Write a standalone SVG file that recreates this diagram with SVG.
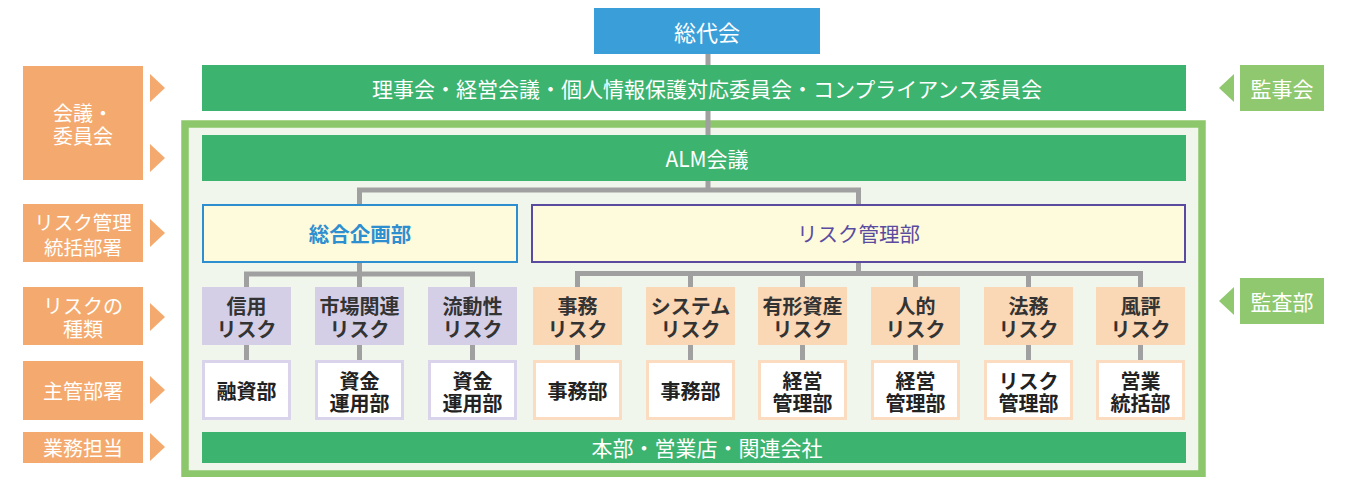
<svg xmlns="http://www.w3.org/2000/svg" width="1358" height="477" viewBox="0 0 1358 477">
<style>
text{font-family:"Noto Sans CJK JP","Noto Sans",sans-serif;text-anchor:middle;dominant-baseline:central}
.w{fill:#fff;font-size:21px}
.lbl{fill:#fff;font-size:20px}
.bar{fill:#3db370}
.or{fill:#f4aa6e}
.gr{fill:#8fc86e}
.rp{fill:#d4cfe7}
.ro{fill:#fad7b5}
.rt{fill:#333;font-size:20px;font-weight:700}
.dp{fill:#fff;stroke:#d9d4ec;stroke-width:3}
.do{fill:#fff;stroke:#fcdcc0;stroke-width:3}
.dt{fill:#222;font-size:20px;font-weight:700}
.con{fill:none;stroke:#a0a0a0;stroke-width:5}
</style>
<rect width="1358" height="477" fill="#fff"/>
<g id="frame"><rect x="185" y="124" width="1017" height="350" fill="#f1f6ec" stroke="#8dc76b" stroke-width="7.5"/></g>
<g id="connectors">
<path class="con" d="M708 54V135M708 181V190M359.5 204V190H858.5V204"/>
<path class="con" d="M246.5 287V274H472.5V287M359.5 263V287"/>
<path class="con" d="M577.5 287V273.5H1140.5V287M858.5 263V273.5M690.5 273.5V287M802.5 273.5V287M915.5 273.5V287M1028.5 273.5V287"/>
<path class="con" d="M246.5 345V361M359.5 345V361M472.5 345V361M577.5 345V361M690.5 345V361M802.5 345V361M915.5 345V361M1028.5 345V361M1140.5 345V361"/>
</g>
<g id="soudaikai"><rect x="594" y="8" width="226" height="46" fill="#3a9fd9"/><text class="w" x="707" y="31" style="font-size:22px">総代会</text></g>
<g id="rijikai"><rect class="bar" x="202" y="65" width="984" height="46"/><text class="w" x="707" y="88">理事会・経営会議・個人情報保護対応委員会・コンプライアンス委員会</text></g>
<g id="alm"><rect class="bar" x="202" y="135" width="984" height="46"/><text class="w" x="707" y="158">ALM会議</text></g>
<g id="sogo"><rect x="203" y="205" width="314" height="57" fill="#fefbdc" stroke="#2e8fd0" stroke-width="2"/><text x="360" y="233" style="fill:#2e8fd0;font-size:20.5px;font-weight:700">総合企画部</text></g>
<g id="riskmgmt"><rect x="532" y="205" width="653" height="57" fill="#fefbdc" stroke="#5b4ba0" stroke-width="2"/><text x="858.5" y="233" style="fill:#5b4ba0;font-size:20.5px">リスク管理部</text></g>
<g id="r1"><rect class="rp" x="202" y="287" width="89" height="58"/><text class="rt" x="246.5" y="305"><tspan x="246.5">信用</tspan><tspan x="246.5" dy="23">リスク</tspan></text></g>
<g id="r2"><rect class="rp" x="315" y="287" width="89" height="58"/><text class="rt" x="359.5" y="305"><tspan x="359.5">市場関連</tspan><tspan x="359.5" dy="23">リスク</tspan></text></g>
<g id="r3"><rect class="rp" x="428" y="287" width="89" height="58"/><text class="rt" x="472.5" y="305"><tspan x="472.5">流動性</tspan><tspan x="472.5" dy="23">リスク</tspan></text></g>
<g id="r4"><rect class="ro" x="533" y="287" width="89" height="58"/><text class="rt" x="577.5" y="305"><tspan x="577.5">事務</tspan><tspan x="577.5" dy="23">リスク</tspan></text></g>
<g id="r5"><rect class="ro" x="646" y="287" width="89" height="58"/><text class="rt" x="690.5" y="305"><tspan x="690.5">システム</tspan><tspan x="690.5" dy="23">リスク</tspan></text></g>
<g id="r6"><rect class="ro" x="758" y="287" width="89" height="58"/><text class="rt" x="802.5" y="305"><tspan x="802.5">有形資産</tspan><tspan x="802.5" dy="23">リスク</tspan></text></g>
<g id="r7"><rect class="ro" x="871" y="287" width="89" height="58"/><text class="rt" x="915.5" y="305"><tspan x="915.5">人的</tspan><tspan x="915.5" dy="23">リスク</tspan></text></g>
<g id="r8"><rect class="ro" x="984" y="287" width="89" height="58"/><text class="rt" x="1028.5" y="305"><tspan x="1028.5">法務</tspan><tspan x="1028.5" dy="23">リスク</tspan></text></g>
<g id="r9"><rect class="ro" x="1096" y="287" width="89" height="58"/><text class="rt" x="1140.5" y="305"><tspan x="1140.5">風評</tspan><tspan x="1140.5" dy="23">リスク</tspan></text></g>
<g id="d1"><rect class="dp" x="203.5" y="361.5" width="86" height="57"/><text class="dt" x="246.5" y="390">融資部</text></g>
<g id="d2"><rect class="dp" x="316.5" y="361.5" width="86" height="57"/><text class="dt" x="359.5" y="380"><tspan x="359.5">資金</tspan><tspan x="359.5" dy="22">運用部</tspan></text></g>
<g id="d3"><rect class="dp" x="429.5" y="361.5" width="86" height="57"/><text class="dt" x="472.5" y="380"><tspan x="472.5">資金</tspan><tspan x="472.5" dy="22">運用部</tspan></text></g>
<g id="d4"><rect class="do" x="534.5" y="361.5" width="86" height="57"/><text class="dt" x="577.5" y="390">事務部</text></g>
<g id="d5"><rect class="do" x="647.5" y="361.5" width="86" height="57"/><text class="dt" x="690.5" y="390">事務部</text></g>
<g id="d6"><rect class="do" x="759.5" y="361.5" width="86" height="57"/><text class="dt" x="802.5" y="380"><tspan x="802.5">経営</tspan><tspan x="802.5" dy="22">管理部</tspan></text></g>
<g id="d7"><rect class="do" x="872.5" y="361.5" width="86" height="57"/><text class="dt" x="915.5" y="380"><tspan x="915.5">経営</tspan><tspan x="915.5" dy="22">管理部</tspan></text></g>
<g id="d8"><rect class="do" x="985.5" y="361.5" width="86" height="57"/><text class="dt" x="1028.5" y="380"><tspan x="1028.5">リスク</tspan><tspan x="1028.5" dy="22">管理部</tspan></text></g>
<g id="d9"><rect class="do" x="1097.5" y="361.5" width="86" height="57"/><text class="dt" x="1140.5" y="380"><tspan x="1140.5">営業</tspan><tspan x="1140.5" dy="22">統括部</tspan></text></g>
<g id="gyomu"><rect class="bar" x="202" y="432" width="984" height="31"/><text class="w" x="707" y="447">本部・営業店・関連会社</text></g>
<g id="lab1"><rect class="or" x="23" y="66" width="120" height="114"/><text class="lbl" x="83" y="112"><tspan x="83">会議・</tspan><tspan x="83" dy="23">委員会</tspan></text><path class="or" d="M150 74L165 88L150 102ZM150 144L165 158L150 172Z"/></g>
<g id="lab2"><rect class="or" x="23" y="204" width="120" height="58"/><text class="lbl" x="83" y="221" style="font-size:19.5px"><tspan x="83">リスク管理</tspan><tspan x="83" dy="25">統括部署</tspan></text><path class="or" d="M150 219L165 233L150 247Z"/></g>
<g id="lab3"><rect class="or" x="23" y="287" width="120" height="58"/><text class="lbl" x="83" y="305"><tspan x="83">リスクの</tspan><tspan x="83" dy="23">種類</tspan></text><path class="or" d="M150 303L165 317L150 331Z"/></g>
<g id="lab4"><rect class="or" x="23" y="361" width="120" height="59"/><text class="lbl" x="83" y="390">主管部署</text><path class="or" d="M150 376L165 390L150 404Z"/></g>
<g id="lab5"><rect class="or" x="23" y="432" width="120" height="31"/><text class="lbl" x="83" y="447">業務担当</text><path class="or" d="M150 433L165 447L150 461Z"/></g>
<g id="kanjikai"><rect class="gr" x="1240" y="65" width="84" height="46"/><text class="lbl" x="1282" y="88" style="font-size:21px">監事会</text><path class="gr" d="M1234 74L1219 88L1234 102Z"/></g>
<g id="kansabu"><rect class="gr" x="1240" y="278" width="84" height="46"/><text class="lbl" x="1282" y="301" style="font-size:21px">監査部</text><path class="gr" d="M1234 287L1219 301L1234 315Z"/></g>
</svg>
